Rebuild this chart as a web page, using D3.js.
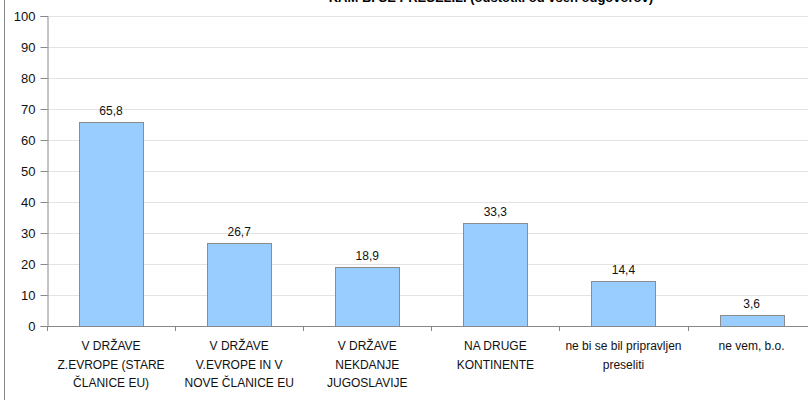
<!DOCTYPE html>
<html>
<head>
<meta charset="utf-8">
<script src="https://cdn.jsdelivr.net/npm/d3@7"></script>
<style>
  body { margin: 0; background: #fff; }
  svg { display: block; font-family: "Liberation Sans", Arial, sans-serif; }
</style>
</head>
<body>
<div id="graph"></div>
<script>
// categories and values
var categories = [
  ["V DRŽAVE", "Z.EVROPE (STARE", "ČLANICE EU)"],
  ["V DRŽAVE", "V.EVROPE IN V", "NOVE ČLANICE EU"],
  ["V DRŽAVE", "NEKDANJE", "JUGOSLAVIJE"],
  ["NA DRUGE", "KONTINENTE"],
  ["ne bi se bil pripravljen", "preseliti"],
  ["ne vem, b.o."]
];
var values = [65.8, 26.7, 18.9, 33.3, 14.4, 3.6];
var yTicks = [0, 10, 20, 30, 40, 50, 60, 70, 80, 90, 100];
var title = "KAM BI SE PRESELILI (odstotki od vseh odgovorov)";

var width = 808, height = 400;
var margin = {top: 16, left: 47, bottom: 74};
var bandW = 128.1;

var svg = d3.select("#graph").append("svg")
    .attr("width", width)
    .attr("height", height);

// outer frame line on the left
svg.append("line")
    .attr("x1", 4.5).attr("x2", 4.5)
    .attr("y1", 0).attr("y2", height)
    .attr("stroke", "#888");

// title, mostly cut off at the top (as in the original)
svg.append("text")
    .attr("x", 653).attr("y", 1.5)
    .attr("text-anchor", "end")
    .style("font-size", "13px")
    .style("font-weight", "bold")
    .text(title);

var idx = d3.range(values.length);
var x = d3.scaleBand()
    .domain(idx)
    .range([margin.left, margin.left + bandW * values.length])
    .paddingInner(0.5).paddingOuter(0.25);

var y = d3.scaleLinear()
    .domain([0, 100])
    .range([height - margin.bottom, margin.top]);

// gridlines
svg.append("g")
    .selectAll("line")
    .data(yTicks.filter(function(d) { return d > 0; }))
    .enter().append("line")
    .attr("x1", margin.left).attr("x2", width)
    .attr("y1", function(d) { return Math.round(y(d)) + 0.5; })
    .attr("y2", function(d) { return Math.round(y(d)) + 0.5; })
    .attr("stroke", "#e3e3e3");

// bars
svg.append("g")
    .selectAll("rect")
    .data(values)
    .enter().append("rect")
    .attr("x", function(d, i) { return Math.round(x(i)) + 0.5; })
    .attr("width", Math.round(x.bandwidth()))
    .attr("y", function(d) { return Math.round(y(d)) + 0.5; })
    .attr("height", function(d) { return Math.round(y(0)) - Math.round(y(d)); })
    .attr("fill", "#99ccff")
    .attr("stroke", "#8c8c8c");

// value labels
svg.append("g")
    .selectAll("text")
    .data(values)
    .enter().append("text")
    .attr("x", function(d, i) { return x(i) + x.bandwidth() / 2; })
    .attr("y", function(d) { return y(d) - 7; })
    .attr("text-anchor", "middle")
    .style("font-size", "12px")
    .attr("fill", "#111")
    .text(function(d) { return d3.format(".1f")(d).replace(".", ","); });

// y axis
var yAxis = d3.axisLeft(y)
    .tickValues(yTicks)
    .tickSize(7)
    .tickPadding(5);

var yg = svg.append("g")
    .attr("transform", "translate(" + (margin.left + 0.5) + ",0)")
    .call(yAxis);
yg.select(".domain").attr("stroke", "#888");
yg.selectAll(".tick line").attr("stroke", "#888");
yg.selectAll(".tick text")
    .style("font-size", "13px")
    .style("font-family", "Liberation Sans, Arial, sans-serif")
    .attr("fill", "#111");

// x axis line and boundary ticks
var xg = svg.append("g");
xg.append("line")
    .attr("x1", margin.left).attr("x2", width)
    .attr("y1", Math.round(y(0)) + 0.5).attr("y2", Math.round(y(0)) + 0.5)
    .attr("stroke", "#888");
xg.selectAll(".xtick")
    .data(d3.range(values.length + 1))
    .enter().append("line")
    .attr("class", "xtick")
    .attr("x1", function(i) { return Math.round(margin.left + i * bandW) + 0.5; })
    .attr("x2", function(i) { return Math.round(margin.left + i * bandW) + 0.5; })
    .attr("y1", Math.round(y(0)))
    .attr("y2", Math.round(y(0)) + 5)
    .attr("stroke", "#888");

// category labels
var labels = svg.append("g")
    .selectAll("text")
    .data(categories)
    .enter().append("text")
    .attr("text-anchor", "middle")
    .style("font-size", "12px")
    .attr("fill", "#111")
    .attr("transform", function(d, i) {
        return "translate(" + (x(i) + x.bandwidth() / 2) + "," + (y(0) + 24) + ")";
    });
labels.selectAll("tspan")
    .data(function(d) { return d; })
    .enter().append("tspan")
    .attr("x", 0)
    .attr("y", function(d, j) { return j * 18.5; })
    .text(function(d) { return d; });
</script>
</body>
</html>
